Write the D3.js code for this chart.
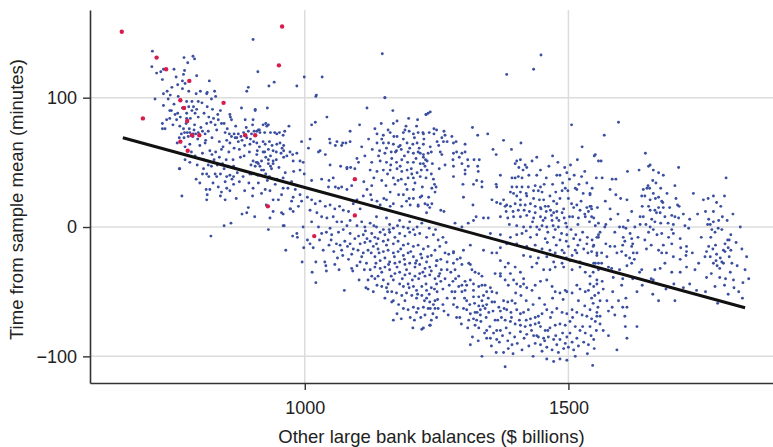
<!DOCTYPE html>
<html>
<head>
<meta charset="utf-8">
<script src="https://cdn.jsdelivr.net/npm/d3@7"></script>
<style>
  body { margin: 0; background: #fff; }
  svg { display: block; }
  text { font-family: "Liberation Sans", Arial, Helvetica, sans-serif; fill: #222; }
</style>
</head>
<body>
<svg id="chart" width="773" height="447"></svg>
<script>
// Axis setup
const xTicks = [1000, 1500];
const yTicks = [-100, 0, 100];
const xDomain = [592.7, 1888];
const yDomain = [-120.6, 167.8];
const xTitle = "Other large bank balances ($ billions)";
const yTitle = "Time from sample mean (minutes)";

// Fitted line: balance ($bn) -> minutes
const trendLine = [[655, 69], [1835, -62.4]];

// Highlighted days
const redDots = [
  [653,151],[719,131],[737,122],[781,113],[764,98],[846,96],[693,84],[771,92],[777,82],
  [786,71],[800,71],[887,71],[906,71],[764,66],[778,59],[957,155],[951,125],[930,16],
  [1095,37],[1095,9],[1018,-7]
];

// All other days
const blueDots = [
  // low balances
  [711,136],[710,124],[719,119],[727,120],[732,122],[730,114],
  [771,131],[788,132],[791,130],[778,127],[772,121],[770,118],[773,111],[768,107],[756,116],[759,110],
  [819,113],[748,108],[739,105],[732,103],[745,102],[741,99],[716,99],
  [732,94],[744,90],[754,87],[759,88],[744,84],[738,83],[730,80],[735,76],[730,76],
  [780,105],[794,103],[802,105],[814,103],[829,105],[831,101],[815,104],
  [776,97],[786,97],[798,97],[780,93],[789,93],[776,88],[792,88],[798,85],[786,90],[795,91],
  [815,93],[825,91],[835,87],[840,90],[818,85],[836,83],[842,80],[830,79],[822,81],[814,80],[858,87],[861,83],[859,85],
  [766,72],[772,73],[777,73],[782,73],[788,72],[793,72],[798,73],[806,74],[811,72],[770,76],[781,76],[790,75],[779,70],[788,70],[771,69],[762,69],
  [849,73],[857,72],[866,72],[874,72],[879,70],[884,73],[893,74],[899,72],[904,74],[912,75],[868,69],[871,69],[890,69],[852,67],[858,65],[874,66],
  [880,92],[890,105],[893,108],[902,145],[911,120],[906,91],[887,83],[902,83],[914,75],
  [758,65],[773,62],[782,64],[801,63],[811,65],[820,59],[831,58],[842,60],[838,54],[828,52],[808,52],[796,48],[782,50],[773,52],[763,45],[817,48],[823,47],[808,45],[844,49],[851,52],[864,52],[878,54],[865,47],[886,63],[896,64],[872,42],[883,39],[896,41],[912,49],[908,50],
  [794,37],[801,34],[814,41],[818,39],[830,41],[833,39],[840,41],[852,39],[858,40],[865,39],[849,35],[865,33],[852,30],[813,29],[820,29],[815,25],[814,21],[842,27],[840,24],[849,21],[858,28],[894,34],[901,24],[912,34],[881,10],[890,11],[847,1],[860,3],[822,-7],[767,24],[762,45],
  [752,95],[757,83],[763,78],[768,92],[775,80],[783,84],[791,79],[797,68],[803,77],[809,88],[812,67],[817,74],[824,69],[827,84],[833,75],[838,66],[845,62],[847,80],[853,76],[856,58],[861,70],[866,61],[869,78],[876,60],[881,67],[885,55],[889,77],[895,58],[898,48],[903,66],[909,56],[914,62],[918,44],[924,58],[929,36],[937,45],[944,33],[951,46],[956,25],[963,42],[968,30],
  [785,58],[792,55],[806,57],[824,56],[834,48],[847,45],[855,47],[862,37],[876,35],[886,28],[806,41],[826,34],[836,31],[870,22],[893,15],[905,8],[918,26],[927,17],[940,12],[776,84],[764,85],[750,79],[747,90],[760,101],[768,113],[752,122],[795,117],[805,96],[823,99],
  [932,109],[942,112],[985,109],[999,116],[1033,116],[1022,102],[1147,134],[1152,100],[1383,118],[1448,133],[1434,122],
  // around 900-1100
  [906,90],[929,92],[901,79],[921,79],[926,80],[931,79],[928,78],[909,74],[915,73],[924,73],[935,73],[943,73],[947,72],[952,73],[959,71],[962,74],[970,78],
  [897,68],[909,65],[921,66],[925,64],[933,66],[938,63],[947,64],[953,65],[957,61],[960,63],[910,59],[921,58],[931,60],[940,59],[946,58],[960,59],[972,58],[977,56],[985,57],[994,66],
  [902,51],[910,50],[918,51],[926,54],[931,52],[935,55],[940,51],[946,52],[955,57],[960,54],[966,55],[906,47],[915,47],[922,44],[931,49],[935,47],[940,49],[899,41],[911,40],[926,41],[933,39],
  [978,51],[991,51],[979,43],[991,44],[975,35],[959,30],[959,38],[947,37],[902,30],[925,29],[934,28],[940,21],[950,21],[975,20],[978,23],[988,16],[959,10],[972,14],[978,12],[934,7],[959,1],[994,20],
  [1021,101],[1013,79],[1020,81],[1042,85],[1047,68],
  [1029,59],[1026,58],[1007,61],[997,50],[999,41],[1013,36],[1032,37],[1046,36],[1054,38],[1045,31],[1058,31],[1064,30],[1070,31],[1080,29],[1089,32],[1080,45],[1072,65],[1058,63],[1061,66],[1086,66],[1099,53],[1087,46],[1068,47],[1048,48],[1039,56],
  [982,29],[991,25],[1005,23],[1013,21],[1020,18],[1029,20],[1039,16],[1048,17],[1057,14],[1066,16],[1073,13],[1083,12],[1092,18],[1099,21],[1105,14],[1010,13],[1023,11],[1032,8],[1042,7],[1054,8],[1061,4],[1070,4],[1080,1],[1086,5],[1099,1],[1108,4],[1114,0],[1013,4],[1026,0],[1048,-1],[1064,-4],[1073,-2],[1086,-5],[1102,-7],[997,0],[985,-5],[961,1],[956,11],[973,14],[931,-2],
  // upper cluster near 1100-1240
  [1118,92],[1152,100],[1167,90],[1104,79],[1145,80],[1168,80],[1137,72],[1149,71],[1162,73],[1175,70],[1187,73],[1190,75],[1198,74],[1206,72],[1215,73],[1225,72],[1230,87],[1234,88],[1214,83],
  [1137,65],[1149,65],[1159,65],[1168,64],[1181,63],[1194,65],[1205,64],[1213,65],[1225,64],[1142,59],[1155,61],[1164,58],[1174,59],[1183,60],[1196,58],[1206,57],[1215,58],[1225,56],[1234,57],
  [1127,50],[1143,51],[1155,50],[1165,53],[1174,50],[1184,52],[1195,50],[1206,50],[1219,49],[1228,47],[1124,44],[1137,43],[1149,44],[1162,44],[1175,45],[1184,43],[1194,44],[1203,41],[1213,42],[1219,39],[1230,38],
  [1168,38],[1177,36],[1196,38],[1206,38],[1127,32],[1154,32],[1194,29],[1206,29],[1219,23],[1235,23],[1187,25],[1162,27],[1200,17],[1215,17],[1137,20],[1162,16],[1118,29],[1095,45],[1102,50],[1080,46],[1070,63],[1048,65],[1010,68],[1078,65],[1086,74],
  [1108,62],[1114,55],[1121,68],[1128,60],[1133,76],[1140,55],[1146,68],[1152,57],[1158,75],[1163,48],[1169,70],[1172,58],[1178,62],[1181,47],[1187,68],[1189,55],[1192,78],[1199,61],[1202,45],[1208,69],[1211,53],[1217,61],[1221,44],[1226,68],[1229,52],[1238,62],[1242,49],
  [1131,38],[1146,36],[1157,41],[1171,33],[1183,37],[1191,33],[1209,34],[1223,31],[1240,41],[1112,35],[1125,25],[1150,22],[1178,25],[1198,22],[1246,33],[1255,45],[1260,56],[1250,75],[1175,82],[1197,84],[1212,78],
  [1124,3],[1136,0],[1149,-2],[1161,2],[1168,-1],[1187,0],[1206,-2],[1136,8],[1155,7],[1180,5],[1199,4],[1222,3],[1231,11],
  [1111,24],[1127,21],[1143,17],[1155,21],[1168,18],[1184,16],[1193,20],[1206,22],[1215,16],[1228,18],[1237,15],
  // 1220-1560 above the line
  [1230,87],[1238,89],[1245,76],[1224,73],[1236,73],[1245,72],[1264,74],[1266,71],[1279,70],[1263,66],[1270,66],[1282,65],[1287,66],[1251,66],[1260,69],[1254,63],[1304,64],
  [1219,57],[1225,54],[1240,58],[1257,58],[1282,57],[1288,58],[1298,57],[1304,58],[1281,52],[1293,54],[1309,52],[1225,49],[1232,51],[1266,48],[1282,47],[1298,49],[1310,47],[1321,52],[1331,52],[1328,47],
  [1232,44],[1282,39],[1304,44],[1304,41],[1329,43],[1326,36],[1336,35],[1336,31],[1244,37],[1241,30],[1249,31],[1247,27],[1300,33],[1301,23],[1320,33],[1222,24],[1233,17],[1241,18],[1258,13],[1264,12],
  [1285,3],[1298,0],[1310,3],[1320,5],[1325,8],[1319,17],[1339,7],[1348,7],[1355,21],[1364,19],[1371,18],[1377,21],[1383,17],[1363,33],[1364,31],[1371,40],
  [1318,77],[1328,71],[1347,72],[1377,67],[1357,60],[1363,56],[1392,60],[1410,65],[1399,49],[1406,46],[1402,51],[1409,52],[1418,48],[1421,46],[1431,51],[1440,54],[1447,44],
  [1393,38],[1399,38],[1405,39],[1412,38],[1393,31],[1402,31],[1412,31],[1424,31],[1437,32],[1447,31],[1454,33],[1390,27],[1396,26],[1409,27],[1420,26],[1434,28],[1443,28],[1450,27],
  [1402,24],[1409,21],[1421,24],[1434,22],[1445,21],[1453,21],[1380,16],[1390,16],[1399,18],[1409,17],[1418,17],[1428,18],[1437,16],[1447,15],[1456,16],[1462,16],[1472,20],[1478,18],
  [1382,12],[1395,12],[1405,13],[1416,13],[1426,12],[1437,11],[1448,14],[1458,12],[1466,13],[1472,11],[1478,12],[1371,8],[1385,7],[1396,8],[1409,8],[1421,9],[1434,7],[1447,8],[1456,7],[1469,5],[1478,7],[1488,11],[1492,7],
  [1388,2],[1402,1],[1415,0],[1428,0],[1440,0],[1450,1],[1459,0],[1471,1],[1481,0],[1495,3],[1497,0],
  [1484,40],[1493,46],[1497,42],[1502,37],[1506,79],[1511,40],[1516,29],[1525,39],[1535,34],[1541,25],[1516,17],[1522,13],[1535,15],[1538,12],[1543,16],[1508,8],[1519,7],[1532,8],[1548,7],[1551,56],[1557,51],[1478,40],[1494,30],[1500,22],[1513,30],
  [1420,-3],[1432,4],[1445,-2],[1452,5],[1461,-4],[1468,9],[1475,-2],[1482,5],[1487,-5],[1491,14],[1496,-11],[1502,8],[1505,-2],[1510,15],[1514,-6],[1518,2],[1524,20],[1527,-4],[1531,10],[1536,-8],[1540,4],[1545,-10],[1551,1],[1555,15],[1560,-4],
  [1465,24],[1470,33],[1476,27],[1484,22],[1489,34],[1499,28],[1506,18],[1520,33],[1528,26],[1531,43],[1545,30],[1553,38],[1458,38],[1463,47],[1470,55],[1480,50],[1488,28],[1504,48],[1517,52],[1526,62],[1440,40],[1425,40],[1414,44],[1460,-12],[1477,-14],[1492,-20],[1503,-26],[1518,-14],[1537,-20],[1551,-28],
  // high balances
  [1595,81],[1568,71],[1549,55],[1562,51],[1564,38],[1583,37],[1590,37],[1579,29],[1590,25],[1599,22],[1611,21],[1612,43],[1634,44],[1646,57],[1652,47],[1661,44],[1671,42],[1680,40],[1709,46],[1702,32],
  [1642,29],[1649,30],[1654,30],[1661,26],[1639,24],[1645,24],[1655,21],[1671,23],[1679,19],[1680,15],[1671,15],[1664,13],[1652,16],[1655,13],[1667,11],[1674,11],[1642,8],[1636,8],[1696,9],[1702,8],[1709,7],[1707,17],[1710,16],
  [1658,6],[1664,4],[1675,3],[1689,3],[1699,2],[1721,1],[1728,-1],[1647,2],[1655,0],[1652,-4],[1661,-2],[1677,-5],[1690,-8],[1699,-5],[1712,-9],[1724,-15],[1696,-13],[1680,-14],[1671,-18],[1686,-20],[1677,-20],[1657,-14],[1648,-17],
  [1674,-32],[1664,-33],[1683,-28],[1699,-23],[1712,-25],[1723,-22],[1724,-19],[1696,-35],[1712,-35],[1724,-31],[1740,-33],[1747,-28],
  [1756,21],[1760,12],[1737,26],[1775,24],[1781,19],[1789,16],[1796,24],[1799,38],[1766,6],[1769,2],[1775,4],[1764,2],[1772,-2],[1778,-4],[1784,-1],[1791,-2],[1801,5],[1808,-6],[1802,-10],[1797,-13],[1803,-16],[1808,-18],[1797,-19],
  [1781,-21],[1788,-24],[1780,-26],[1791,-27],[1774,-17],[1766,-15],[1762,-19],[1769,-23],[1759,-23],[1775,-28],[1794,-28],[1807,-35],[1813,-41],[1814,-47],[1823,-50],[1831,-43],[1835,-33],[1829,-17],[1805,-10],[1778,-46],[1783,-59],[1803,-52],[1762,-39],
  [1541,16],[1544,8],[1554,-8],[1557,3],[1569,0],[1571,-13],[1579,-15],[1588,-15],[1597,0],[1604,0],[1609,-1],[1604,-8],[1607,-11],[1601,-19],[1609,-22],[1617,-5],[1620,-9],[1620,-15],[1623,-20],
  [1547,-15],[1554,-20],[1563,-20],[1573,-23],[1557,-28],[1547,-35],[1563,-28],[1576,-31],[1582,-32],[1585,-39],[1597,-33],[1611,-30],[1620,-28],[1635,-35],[1639,-33],[1616,-24],[1592,-20],
  [1541,-44],[1554,-44],[1564,-42],[1566,-48],[1557,-51],[1550,-53],[1544,-55],[1547,-59],[1560,-57],[1573,-57],[1576,-65],[1603,-62],[1609,-55],[1611,-62],[1603,-40],[1601,-45],[1607,-69],[1560,-69],[1554,-66],[1541,-64],[1588,-68],[1671,-57],[1702,-57],[1657,-40],[1661,-41],[1743,-49],
  [1541,26],[1544,14],[1571,2],[1557,-6],[1622,-13],[1630,-20],[1636,2],[1626,0],[1666,34],[1677,20],[1620,12],[1570,20],[1579,14],
  [1560,-75],[1566,-80],[1576,-84],[1592,-95],[1611,-86],[1608,-77],[1630,-77],
  [1580,6],[1588,-4],[1594,10],[1603,-14],[1613,5],[1625,-25],[1632,-8],[1640,16],[1645,-10],[1651,32],[1655,48],[1660,36],[1665,22],[1668,-6],[1675,30],[1683,8],[1687,26],[1692,15],[1696,-2],[1704,22],[1713,-16],[1718,10],[1730,6],[1735,-20],[1745,10],[1752,-8],
  [1765,22],[1770,-8],[1775,12],[1779,-14],[1785,5],[1787,-32],[1792,8],[1794,-18],[1798,-40],[1805,-23],[1810,-28],[1812,10],[1818,-12],[1820,-30],[1826,0],[1830,-55],[1838,-23],[1842,-40],[1787,-39],[1796,-45],[1782,-30],[1771,-36],[1760,-50],
  [1730,-44],[1718,-47],[1700,-44],[1685,-48],[1660,-52],[1640,-45],[1630,-50],[1622,-40],[1584,-50],[1595,-57],[1583,-62],
  // 1220-1560 below the line
  [1222,-79],[1238,-76],[1238,-63],[1247,-63],[1251,-26],[1254,-38],[1251,-50],
  [1259,-33],[1262,-48],[1266,-40],[1270,-55],[1274,-45],[1277,-35],[1281,-42],[1264,-65],[1272,-68],[1286,-40],[1288,-70],
  [1266,-20],[1273,-21],[1282,-20],[1270,-27],[1282,-28],[1289,-25],[1295,-24],[1298,-29],[1285,-33],[1270,-33],[1311,-28],[1314,-29],[1317,-33],[1323,-35],[1330,-36],[1336,-38],
  [1314,-41],[1320,-44],[1307,-45],[1298,-45],[1292,-46],[1285,-50],[1298,-50],[1304,-49],[1320,-49],[1330,-46],[1336,-45],[1342,-45],[1352,-47],[1355,-50],[1345,-50],[1339,-53],[1330,-54],[1320,-54],[1307,-57],
  [1301,-63],[1307,-64],[1314,-67],[1323,-66],[1333,-64],[1342,-63],[1345,-60],[1355,-58],[1330,-61],[1336,-57],[1311,-72],[1320,-71],[1326,-72],[1323,-76],[1330,-78],[1333,-68],[1349,-66],[1345,-80],[1352,-86],[1314,-91],[1336,-100],
  [1297,-75],[1282,-60],[1279,-50],[1292,-38],[1304,-42],[1364,-51],[1371,-36],[1377,-57],[1368,-62],[1371,-65],[1361,-72],[1364,-80],
  [1380,-41],[1386,-45],[1396,-41],[1402,-44],[1409,-46],[1415,-44],[1421,-47],[1431,-49],[1437,-45],[1447,-42],[1459,-41],[1469,-46],[1475,-50],[1484,-51],[1494,-49],[1497,-50],[1507,-51],[1516,-45],[1522,-48],[1532,-50],[1538,-49],[1548,-46],[1554,-41],
  [1541,-38],[1532,-35],[1522,-27],[1516,-20],[1507,-22],[1496,-24],[1488,-28],[1475,-31],[1465,-33],[1453,-33],[1440,-28],[1431,-31],[1415,-40],[1409,-35],[1399,-31],[1386,-28],[1380,-31],[1371,-26],
  [1385,-58],[1393,-57],[1399,-59],[1383,-64],[1391,-66],[1402,-64],[1409,-67],[1415,-66],[1424,-64],[1428,-71],[1437,-70],[1443,-69],[1450,-67],[1459,-64],[1469,-66],[1478,-63],[1488,-66],[1497,-67],[1507,-64],[1516,-66],[1526,-68],[1535,-69],[1544,-71],[1554,-69],
  [1380,-72],[1390,-73],[1399,-75],[1409,-76],[1418,-77],[1428,-76],[1437,-75],[1447,-77],[1456,-80],[1465,-78],[1475,-76],[1484,-75],[1494,-76],[1503,-73],[1513,-77],[1522,-80],[1532,-82],[1541,-77],[1551,-73],
  [1409,-81],[1421,-83],[1434,-84],[1443,-85],[1453,-86],[1462,-85],[1472,-87],[1484,-87],[1497,-85],[1507,-89],[1516,-86],[1529,-89],[1538,-91],[1548,-87],
  [1437,-90],[1447,-91],[1459,-93],[1469,-95],[1478,-91],[1491,-94],[1500,-93],[1510,-95],[1459,-102],[1472,-104],[1484,-102],[1497,-103],[1513,-100],[1546,-107],[1380,-108],[1377,-97],[1386,-94],[1393,-91],[1364,-87],[1358,-82],[1371,-80],[1345,-86],
  [1284,-55],[1289,-62],[1294,-70],[1303,-55],[1309,-78],[1313,-60],[1318,-85],[1322,-59],[1327,-66],[1329,-88],[1334,-73],[1338,-61],[1341,-82],[1344,-70],[1348,-55],[1351,-77],[1354,-92],[1357,-65],[1360,-58],[1363,-97],[1366,-72],[1369,-89],[1373,-70],[1375,-84],[1378,-63],
  [1382,-78],[1385,-88],[1389,-82],[1392,-70],[1395,-98],[1398,-85],[1403,-90],[1407,-72],[1412,-95],[1416,-86],[1420,-72],[1425,-92],[1430,-80],[1433,-100],[1440,-84],[1444,-74],[1450,-96],[1455,-88],[1461,-80],[1466,-70],[1476,-84],[1481,-97],[1489,-82],[1494,-90],[1503,-82],
  [1508,-70],[1519,-92],[1527,-77],[1536,-98],[1543,-84],[1549,-94],[1553,-80],[1556,-62],[1531,-61],[1519,-57],[1490,-56],[1470,-55],[1455,-60],[1445,-55],[1433,-60],[1420,-57],[1410,-53],[1400,-51],
  [1352,-5],[1371,-6],[1390,-8],[1402,-6],[1412,-5],[1428,-8],[1440,-6],[1456,-9],[1472,-8],[1484,-10],[1497,-6],[1510,-9],[1522,-10],[1535,-13],[1548,-14],[1557,-8],
  [1402,-13],[1421,-15],[1437,-14],[1450,-17],[1465,-18],[1475,-20],[1488,-18],[1500,-15],[1513,-18],[1529,-17],[1544,-19],[1554,-22],[1415,-22],[1428,-23],[1443,-24],[1459,-23],[1472,-27],[1491,-31],[1507,-33],[1522,-31],[1535,-29],[1548,-28],[1557,-33],
  [1371,-16],[1364,-20],[1383,-13],[1314,-14],[1301,-18],[1282,-19],[1339,-18],[1355,-20],[1390,-36],[1371,-38],[1361,-36],
  // 950-1260 below the line
  [964,-18],[977,-7],[986,-8],[995,-27],[1010,-13],[1016,-16],[1021,-27],[1014,-35],[1021,-43],[1040,-30],[1041,-34],[1038,-27],[1057,-29],[1065,-33],[1072,-22],[1075,-49],[1089,-32],[1091,-34],[1103,-41],[1055,-19],[1046,-14],[1032,-5],[1041,-4],[1051,-6],
  [1060,-13],[1067,-14],[1076,-11],[1081,-15],[1086,-13],[1092,-17],[1101,-18],[1105,-13],[1111,-20],[1120,-18],[1089,-21],[1111,-6],[1127,-5],[1133,-8],[1124,-11],[1114,-12],[1136,-13],
  [1143,-4],[1152,-6],[1161,-4],[1171,-8],[1180,-5],[1190,-7],[1199,-4],[1209,-6],[1218,-5],[1231,-8],[1244,-6],[1253,-10],[1139,-9],[1149,-11],[1158,-10],[1168,-13],[1177,-11],[1187,-14],[1196,-13],[1206,-15],[1215,-14],[1225,-17],[1234,-15],[1247,-18],[1256,-15],
  [1130,-15],[1139,-17],[1149,-19],[1158,-18],[1168,-20],[1177,-19],[1187,-22],[1196,-20],[1206,-23],[1212,-26],[1222,-24],[1231,-27],[1240,-22],[1250,-26],[1133,-23],[1143,-26],[1152,-24],[1161,-27],[1171,-28],[1180,-27],[1190,-29],[1199,-28],[1209,-31],[1218,-29],[1228,-32],[1237,-31],
  [1105,-27],[1117,-28],[1124,-33],[1133,-31],[1143,-32],[1152,-31],[1161,-33],[1171,-36],[1180,-35],[1190,-37],[1199,-36],[1209,-38],[1218,-36],[1228,-38],[1237,-37],[1247,-40],[1256,-36],
  [1120,-41],[1133,-40],[1139,-38],[1149,-41],[1158,-44],[1168,-41],[1180,-44],[1187,-46],[1196,-44],[1206,-46],[1212,-49],[1222,-46],[1231,-49],[1240,-47],[1250,-44],
  [1155,-47],[1165,-50],[1174,-51],[1193,-51],[1203,-53],[1212,-55],[1222,-53],[1231,-55],[1237,-58],[1247,-57],[1152,-55],[1168,-57],
  [1187,-63],[1196,-64],[1206,-62],[1212,-66],[1225,-62],[1234,-63],[1244,-60],[1253,-63],[1168,-72],[1208,-72],[1205,-78],[1225,-78],[1237,-76],[1120,-48],[1130,-50],[1116,-47],
  [1095,-9],[1108,-23],[1118,-9],[1126,-20],[1135,-28],[1141,-20],[1146,-35],[1155,-14],[1159,-29],[1164,-38],[1170,-23],[1175,-31],[1182,-17],[1185,-40],[1189,-25],[1193,-33],[1198,-47],[1201,-19],[1204,-41],[1210,-28],[1214,-52],[1216,-40],[1220,-21],[1224,-35],[1227,-57],
  [1230,-44],[1233,-23],[1236,-52],[1240,-34],[1243,-67],[1246,-48],[1249,-30],[1252,-56],[1258,-42],[1262,-60],[1165,-58],[1178,-60],[1184,-53],[1190,-57],[1200,-70],[1215,-63],[1220,-70],[1228,-68],[1240,-72],[1250,-70],[1175,-67],[1183,-71],[1157,-50],[1146,-46],[1137,-45],
  [1127,-38],[1113,-33],[1099,-30],[1083,-25],[1070,-18],[1062,-24],[1050,-10],[1035,-18],[1028,-10],[1005,-10],[998,-16],[1115,-3],[1131,1],[1160,-2],[1176,1],[1196,-1],[1213,0],[1236,-1],[1248,-2],[1262,-8],[1268,-12],[1258,-25]
];

const margin = { top: 10, right: 0, bottom: 64, left: 90 };
const width = 773, height = 447;

const svg = d3.select("#chart");

const x = d3.scaleLinear().domain(xDomain).range([margin.left, width - margin.right]);
const y = d3.scaleLinear().domain(yDomain).range([height - margin.bottom, margin.top]);

// grid
const grid = svg.append("g").attr("stroke", "#dcdcdc").attr("stroke-width", 1.5);
grid.selectAll("line.gx").data(xTicks).join("line")
  .attr("x1", d => x(d)).attr("x2", d => x(d))
  .attr("y1", y.range()[1]).attr("y2", y.range()[0]);
grid.selectAll("line.gy").data(yTicks).join("line")
  .attr("y1", d => y(d)).attr("y2", d => y(d))
  .attr("x1", x.range()[0]).attr("x2", x.range()[1]);

// dots
svg.append("g").attr("fill", "#3b4fa0")
  .selectAll("circle").data(blueDots).join("circle")
  .attr("cx", d => x(d[0])).attr("cy", d => y(d[1])).attr("r", 1.45);

svg.append("g").attr("fill", "#d81b4b")
  .selectAll("circle").data(redDots).join("circle")
  .attr("cx", d => x(d[0])).attr("cy", d => y(d[1])).attr("r", 2.2);

// fitted line
svg.append("path")
  .datum(trendLine)
  .attr("fill", "none").attr("stroke", "#111").attr("stroke-width", 3)
  .attr("d", d3.line().x(d => x(d[0])).y(d => y(d[1])));

// axes
const fmt = d3.format("d");
const yAxis = svg.append("g")
  .attr("transform", `translate(${margin.left},0)`)
  .call(d3.axisLeft(y).tickValues(yTicks).tickFormat(fmt).tickSize(7).tickPadding(6).tickSizeOuter(0));
const xAxis = svg.append("g")
  .attr("transform", `translate(0,${height - margin.bottom})`)
  .call(d3.axisBottom(x).tickValues(xTicks).tickFormat(fmt).tickSize(7).tickPadding(11).tickSizeOuter(0));

[xAxis, yAxis].forEach(g => {
  g.select(".domain").attr("stroke", "#333").attr("stroke-width", 1.6);
  g.selectAll(".tick line").attr("stroke", "#333").attr("stroke-width", 1.4);
  g.selectAll(".tick text").attr("fill", "#222").style("font-size", "18px")
    .style("font-family", '"Liberation Sans", Arial, Helvetica, sans-serif');
});

// titles
svg.append("text")
  .attr("x", (margin.left + width - margin.right) / 2)
  .attr("y", 443)
  .attr("text-anchor", "middle")
  .style("font-size", "18.5px")
  .text(xTitle);

svg.append("text")
  .attr("transform", `translate(23,${(margin.top + height - margin.bottom) / 2 + 3}) rotate(-90)`)
  .attr("text-anchor", "middle")
  .style("font-size", "18.5px")
  .text(yTitle);
</script>
</body>
</html>
